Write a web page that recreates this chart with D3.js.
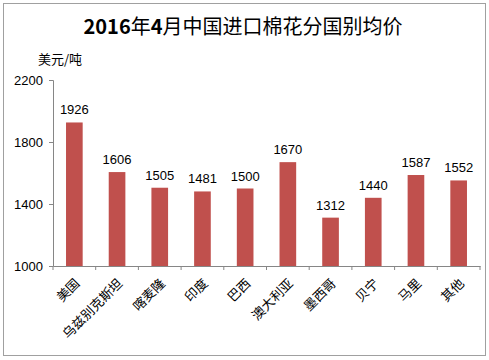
<!DOCTYPE html>
<html><head><meta charset="utf-8">
<script src="https://cdn.jsdelivr.net/npm/d3@7"></script>
<style>body{margin:0;background:#fff}svg{display:block}</style>
</head><body><svg id="c" width="489" height="360"></svg>
<script>
const categories = ["美国","乌兹别克斯坦","喀麦隆","印度","巴西","澳大利亚","墨西哥","贝宁","马里","其他"];
const values = [1926,1606,1505,1481,1500,1670,1312,1440,1587,1552];
const yTicks = [1000,1400,1800,2200];
const titleParts = [["2016",700],["年",400],["4",700],["月中国进口棉花分国别均价",400]];
const unitLabel = "美元/吨";

const svg = d3.select("#c");
const cjk = "'Noto Sans CJK SC','Noto Sans',sans-serif";
const num = "'Liberation Sans','DejaVu Sans',sans-serif";

svg.append("rect").attr("x",3.5).attr("y",3.5).attr("width",482).attr("height",352)
  .attr("fill","#fff").attr("stroke","#a0a0a0").attr("stroke-width",1);

const t = svg.append("text").attr("x",243).attr("y",34).attr("text-anchor","middle")
  .attr("font-size",20).attr("font-family",cjk).attr("fill","#000");
titleParts.forEach(p=>t.append("tspan").attr("font-weight",p[1]).text(p[0]));

svg.append("text").attr("x",38).attr("y",64).attr("font-size",13).attr("font-family",cjk).text(unitLabel);

const x = d3.scaleBand().domain(categories).range([53,480]).paddingInner(0.61).paddingOuter(0.305);
const y = d3.scaleLinear().domain([1000,2200]).range([266,80]);

const ya = svg.append("g").attr("transform","translate(53,0)")
  .call(d3.axisLeft(y).tickValues(yTicks).tickSize(4).tickPadding(6).tickFormat(d3.format("d")));
ya.select(".domain").attr("stroke","#868686");
ya.selectAll(".tick line").attr("stroke","#868686");
ya.selectAll("text").attr("font-size",13).attr("font-family",num).attr("fill","#000");

const xb = d3.scaleBand().domain(categories).range([53,480]);
const xa = svg.append("g").attr("transform","translate(0,266)")
  .call(d3.axisBottom(xb).tickSize(0).tickFormat(""));
xa.select(".domain").attr("stroke","#868686");
const bounds = d3.range(categories.length+1).map(i=>53+i*xb.step());
svg.append("g").selectAll("line").data(bounds).join("line")
  .attr("x1",d=>d).attr("x2",d=>d).attr("y1",266).attr("y2",270).attr("stroke","#868686");

svg.append("g").selectAll("rect").data(values).join("rect")
  .attr("x",(d,i)=>x(categories[i])).attr("width",x.bandwidth())
  .attr("y",d=>y(d)).attr("height",d=>y(1000)-y(d)).attr("fill","#c0504d");

svg.append("g").selectAll("text").data(values).join("text")
  .attr("x",(d,i)=>x(categories[i])+x.bandwidth()/2).attr("y",d=>y(d)-8)
  .attr("text-anchor","middle").attr("font-size",13).attr("font-family",num).text(d=>d);

svg.append("g").selectAll("text").data(categories).join("text")
  .attr("transform",d=>`translate(${xb(d)+xb.bandwidth()/2+3},${281}) rotate(-45)`)
  .attr("text-anchor","end").attr("dy","0.35em").attr("font-size",13).attr("font-family",cjk).text(d=>d);
</script></body></html>
